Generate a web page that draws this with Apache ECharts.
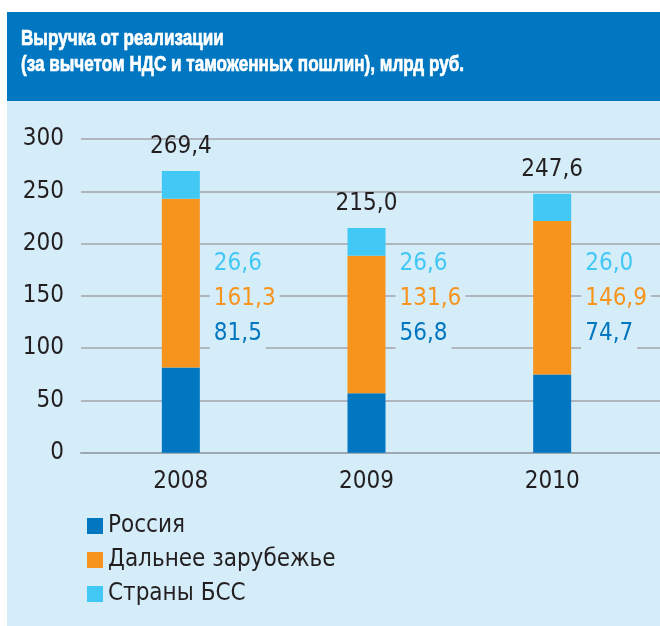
<!DOCTYPE html>
<html>
<head>
<meta charset="utf-8">
<script src="https://cdn.jsdelivr.net/npm/echarts@6/dist/echarts.min.js"></script>
<style>
  html, body { margin: 0; padding: 0; background: #ffffff; }
  #chart { width: 660px; height: 626px; }
</style>
</head>
<body>
<div id="chart"></div>
<script>
// Revenue by market, bn RUB (net of VAT and customs duties)
const years = ['2008', '2009', '2010'];
const russia = [81.5, 56.8, 74.7];
const farAbroad = [161.3, 131.6, 146.9];
const cis = [26.6, 26.6, 26.0];
const totals = [269.4, 215.0, 247.6];
const yTicks = { min: 0, max: 300, interval: 50 };
const seriesNames = ['Россия', 'Дальнее зарубежье', 'Страны БСС'];
const titleLines = ['Выручка от реализации', '(за вычетом НДС и таможенных пошлин), млрд руб.'];

const FONT = '"DejaVu Sans Condensed", "Liberation Sans", sans-serif';
const TITLE_FONT = 'bold 22px "Liberation Sans", Arial, sans-serif';
const C_RUS = '#0077c0';
const C_FAR = '#f7941d';
const C_CIS = '#41c8f4';
const C_TEXT = '#231f20';
const C_PANEL = '#d5ecf9';

const fmt = v => v.toFixed(1).replace('.', ',');

// Condensed look for the heading: squeeze the bold face horizontally
const measureCtx = document.createElement('canvas').getContext('2d');
measureCtx.font = TITLE_FONT;
const titleWidth = Math.max(...titleLines.map(t => measureCtx.measureText(t).width));
const titleScaleX = 443 / titleWidth;

const chart = echarts.init(document.getElementById('chart'), null, { renderer: 'canvas' });

const plotTop = 139;
const plotHeight = 313.7;
const labelBox = { backgroundColor: C_PANEL, padding: [5, 4, 5, 4], fontFamily: FONT, fontSize: 24, lineHeight: 35 };

chart.setOption({
  backgroundColor: '#ffffff',
  animation: false,
  graphic: [
    { type: 'rect', z: -10, shape: { x: 7, y: 12, width: 653, height: 89 }, style: { fill: C_RUS } },
    { type: 'rect', z: -10, shape: { x: 7, y: 101, width: 653, height: 525 }, style: { fill: C_PANEL } },
    {
      type: 'text', x: 21, y: 26, scaleX: titleScaleX, z: 10,
      style: {
        text: titleLines.join('\n'),
        fill: '#ffffff',
        stroke: '#ffffff',
        lineWidth: 0.7,
        font: TITLE_FONT,
        lineHeight: 26,
        textVerticalAlign: 'top'
      }
    }
  ],
  legend: {
    orient: 'vertical',
    left: 82,
    top: 508,
    itemWidth: 16,
    itemHeight: 16,
    itemGap: 8,
    icon: 'rect',
    data: seriesNames,
    textStyle: { color: C_TEXT, fontFamily: FONT, fontSize: 24, lineHeight: 26 }
  },
  grid: [
    { left: 81, right: 0, top: plotTop, height: plotHeight },
    { left: 88, right: 15, top: plotTop, height: plotHeight }
  ],
  xAxis: [
    {
      gridIndex: 0, type: 'category', data: [''],
      axisLine: { show: true, lineStyle: { color: '#9ea8b0', width: 2 } },
      axisTick: { show: false }, axisLabel: { show: false }
    },
    {
      gridIndex: 1, type: 'category', data: years,
      axisLine: { show: false }, axisTick: { show: false },
      axisLabel: { color: C_TEXT, fontFamily: FONT, fontSize: 24, margin: 17 }
    }
  ],
  yAxis: [
    {
      gridIndex: 0, type: 'value', min: yTicks.min, max: yTicks.max, interval: yTicks.interval,
      axisLine: { show: false }, axisTick: { show: false },
      axisLabel: { color: C_TEXT, fontFamily: FONT, fontSize: 24, margin: 17 },
      splitLine: { show: true, lineStyle: { color: '#a2a5a8', width: 1.5 } }
    },
    {
      gridIndex: 1, type: 'value', min: yTicks.min, max: yTicks.max, interval: yTicks.interval,
      show: false, splitLine: { show: false }
    }
  ],
  series: [
    {
      name: seriesNames[0], type: 'bar', stack: 'rev', xAxisIndex: 1, yAxisIndex: 1,
      barWidth: 38, data: russia, itemStyle: { color: C_RUS },
      label: {
        show: true,
        position: ['100%', '100%'],
        align: 'left',
        verticalAlign: 'bottom',
        offset: [10, -101],
        formatter: p => {
          const i = p.dataIndex;
          return '{c|' + fmt(cis[i]) + '}\n{f|' + fmt(farAbroad[i]) + '}\n{r|' + fmt(russia[i]) + '}';
        },
        rich: {
          c: Object.assign({ color: C_CIS }, labelBox),
          f: Object.assign({ color: C_FAR }, labelBox),
          r: Object.assign({ color: C_RUS }, labelBox)
        }
      }
    },
    {
      name: seriesNames[1], type: 'bar', stack: 'rev', xAxisIndex: 1, yAxisIndex: 1,
      barWidth: 38, data: farAbroad, itemStyle: { color: C_FAR }
    },
    {
      name: seriesNames[2], type: 'bar', stack: 'rev', xAxisIndex: 1, yAxisIndex: 1,
      barWidth: 38, data: cis, itemStyle: { color: C_CIS },
      label: {
        show: true,
        position: 'top',
        distance: 12,
        color: C_TEXT,
        fontFamily: FONT,
        fontSize: 24,
        formatter: p => fmt(totals[p.dataIndex])
      }
    }
  ]
});
</script>
</body>
</html>
